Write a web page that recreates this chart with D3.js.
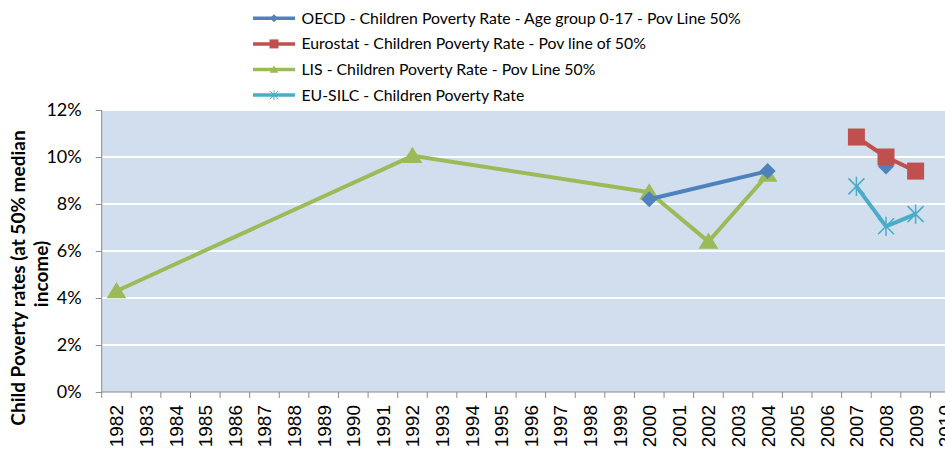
<!DOCTYPE html>
<html>
<head>
<meta charset="utf-8">
<script src="https://cdn.jsdelivr.net/npm/d3@7"></script>
<style>
  body { margin: 0; background: #fff; }
  svg { display: block; }
</style>
</head>
<body>
<div id="chart"></div>
<script>
// category axis: one band per year
const years = d3.range(1982, 2011);
const yTicks = [0, 0.02, 0.04, 0.06, 0.08, 0.1, 0.12];

// series values, null = gap in the line
const oecdValues = [[2000, 0.082], [2004, 0.094], null, [2008, 0.096]];
const eurostatValues = [[2007, 0.1085], [2008, 0.1], [2009, 0.094]];
const lisValues = [[1982, 0.043], [1992, 0.1005], [2000, 0.085], [2002, 0.064], [2004, 0.0925]];
const silcValues = [[2007, 0.0875], [2008, 0.0705], [2009, 0.0757]];

const seriesNames = [
  'OECD - Children Poverty Rate - Age group 0-17 - Pov Line 50%',
  'Eurostat - Children Poverty Rate - Pov line of 50%',
  'LIS - Children Poverty Rate - Pov Line 50%',
  'EU-SILC - Children Poverty Rate'
];

const W = 945, H = 452;
const plot = { left: 101.7, right: 960, top: 110, bottom: 392 };

const svg = d3.select('#chart').append('svg')
  .attr('width', W)
  .attr('height', H);

const x = d3.scaleBand().domain(years).range([plot.left, plot.right]);
const y = d3.scaleLinear().domain([0, 0.12]).range([plot.bottom, plot.top]);
const cx = (yr) => x(yr) + x.bandwidth() / 2;

// plot area
svg.append('rect')
  .attr('x', plot.left)
  .attr('y', plot.top)
  .attr('width', plot.right - plot.left)
  .attr('height', plot.bottom - plot.top)
  .attr('fill', '#d1deed');

svg.append('g')
  .selectAll('line')
  .data(yTicks.slice(1))
  .enter()
  .append('line')
  .attr('x1', plot.left)
  .attr('x2', plot.right)
  .attr('y1', (d) => y(d))
  .attr('y2', (d) => y(d))
  .attr('stroke', '#fff')
  .attr('stroke-width', 2);

// y axis
const yAxis = svg.append('g')
  .attr('transform', `translate(${plot.left},0)`)
  .call(d3.axisLeft(y).tickValues(yTicks).tickFormat(d3.format('.0%')).tickSize(6).tickPadding(14));
yAxis.selectAll('line, path').attr('stroke', '#8c8c8c');
yAxis.select('.domain').attr('d', `M0,${plot.top}V${plot.bottom}`);
yAxis.selectAll('text')
  .style('font-family', 'Lato, sans-serif')
  .style('font-size', '18px')
  .attr('fill', '#000');

// x axis, ticks between categories
const xAxis = svg.append('g')
  .attr('transform', `translate(0,${plot.bottom})`);
xAxis.append('line')
  .attr('x1', plot.left)
  .attr('x2', plot.right)
  .attr('stroke', '#8c8c8c');
xAxis.selectAll('.tk')
  .data(years)
  .enter()
  .append('line')
  .attr('class', 'tk')
  .attr('x1', (d) => x(d))
  .attr('x2', (d) => x(d))
  .attr('y2', 6)
  .attr('stroke', '#8c8c8c');
xAxis.selectAll('text')
  .data(years)
  .enter()
  .append('text')
  .attr('transform', (d) => `translate(${cx(d) + 7},13) rotate(-90)`)
  .attr('text-anchor', 'end')
  .style('font-family', '"Liberation Sans", Arial, sans-serif')
  .style('font-size', '19px')
  .text((d) => d);

// y title
const yTitle = svg.append('text')
  .attr('transform', `translate(0,278) rotate(-90)`)
  .attr('text-anchor', 'middle')
  .style('font-family', 'Lato, sans-serif')
  .style('font-size', '19px')
  .style('font-weight', 'bold');
yTitle.append('tspan').attr('x', 0).attr('y', 25).text('Child Poverty rates (at 50% median');
yTitle.append('tspan').attr('x', 4).attr('y', 48).text('income)');

// markers
const colors = ['#4f81bd', '#c0504d', '#9bbb59', '#4bacc6'];
const markerPath = {
  diamond: (s) => `M0,${-s}L${s},0L0,${s}L${-s},0Z`,
  square: (s) => `M${-s},${-s}H${s}V${s}H${-s}Z`,
  triangle: (s) => `M0,${-s}L${s * 1.1},${s * 0.8}H${-s * 1.1}Z`,
  star: (s) => `M${-s},${-s}L${s},${s}M${-s},${s}L${s},${-s}M0,${-s * 1.2}V${s * 1.2}`
};
const series = [
  { values: oecdValues, marker: 'diamond', size: 8 },
  { values: eurostatValues, marker: 'square', size: 8.5 },
  { values: lisValues, marker: 'triangle', size: 9 },
  { values: silcValues, marker: 'star', size: 8 }
];

const line = d3.line()
  .defined((d) => d !== null)
  .x((d) => cx(d[0]))
  .y((d) => y(d[1]));

// draw LIS first, then OECD over it, like the source
const drawOrder = [2, 0, 1, 3];
drawOrder.forEach((i) => {
  const s = series[i];
  const g = svg.append('g');
  g.append('path')
    .attr('d', line(s.values))
    .attr('fill', 'none')
    .attr('stroke', colors[i])
    .attr('stroke-width', 4)
    .attr('stroke-linejoin', 'round');
  g.selectAll('.m')
    .data(s.values.filter((d) => d !== null))
    .enter()
    .append('path')
    .attr('class', 'm')
    .attr('transform', (d) => `translate(${cx(d[0])},${y(d[1])})`)
    .attr('d', markerPath[s.marker](s.size))
    .attr('fill', s.marker === 'star' ? 'none' : colors[i])
    .attr('stroke', colors[i])
    .attr('stroke-width', s.marker === 'star' ? 1.5 : 0);
});

// legend
const legend = svg.append('g');
const legendRows = legend.selectAll('g')
  .data(seriesNames)
  .enter()
  .append('g')
  .attr('transform', (d, i) => `translate(253,${18.3 + i * 25.6})`);
legendRows.append('line')
  .attr('x2', 42)
  .attr('stroke', (d, i) => colors[i])
  .attr('stroke-width', 3.5);
legendRows.append('path')
  .attr('transform', 'translate(21,0)')
  .attr('d', (d, i) => markerPath[series[i].marker]([4, 4.5, 4, 4][i]))
  .attr('fill', (d, i) => (i === 3 ? 'none' : colors[i]))
  .attr('stroke', (d, i) => colors[i])
  .attr('stroke-width', (d, i) => (i === 3 ? 1 : 0));
legendRows.append('text')
  .attr('x', 48.5)
  .attr('y', 5.5)
  .style('font-family', 'Lato, sans-serif')
  .style('font-size', '15.8px')
  .attr('fill', '#000')
  .text((d) => d);
</script>
</body>
</html>
